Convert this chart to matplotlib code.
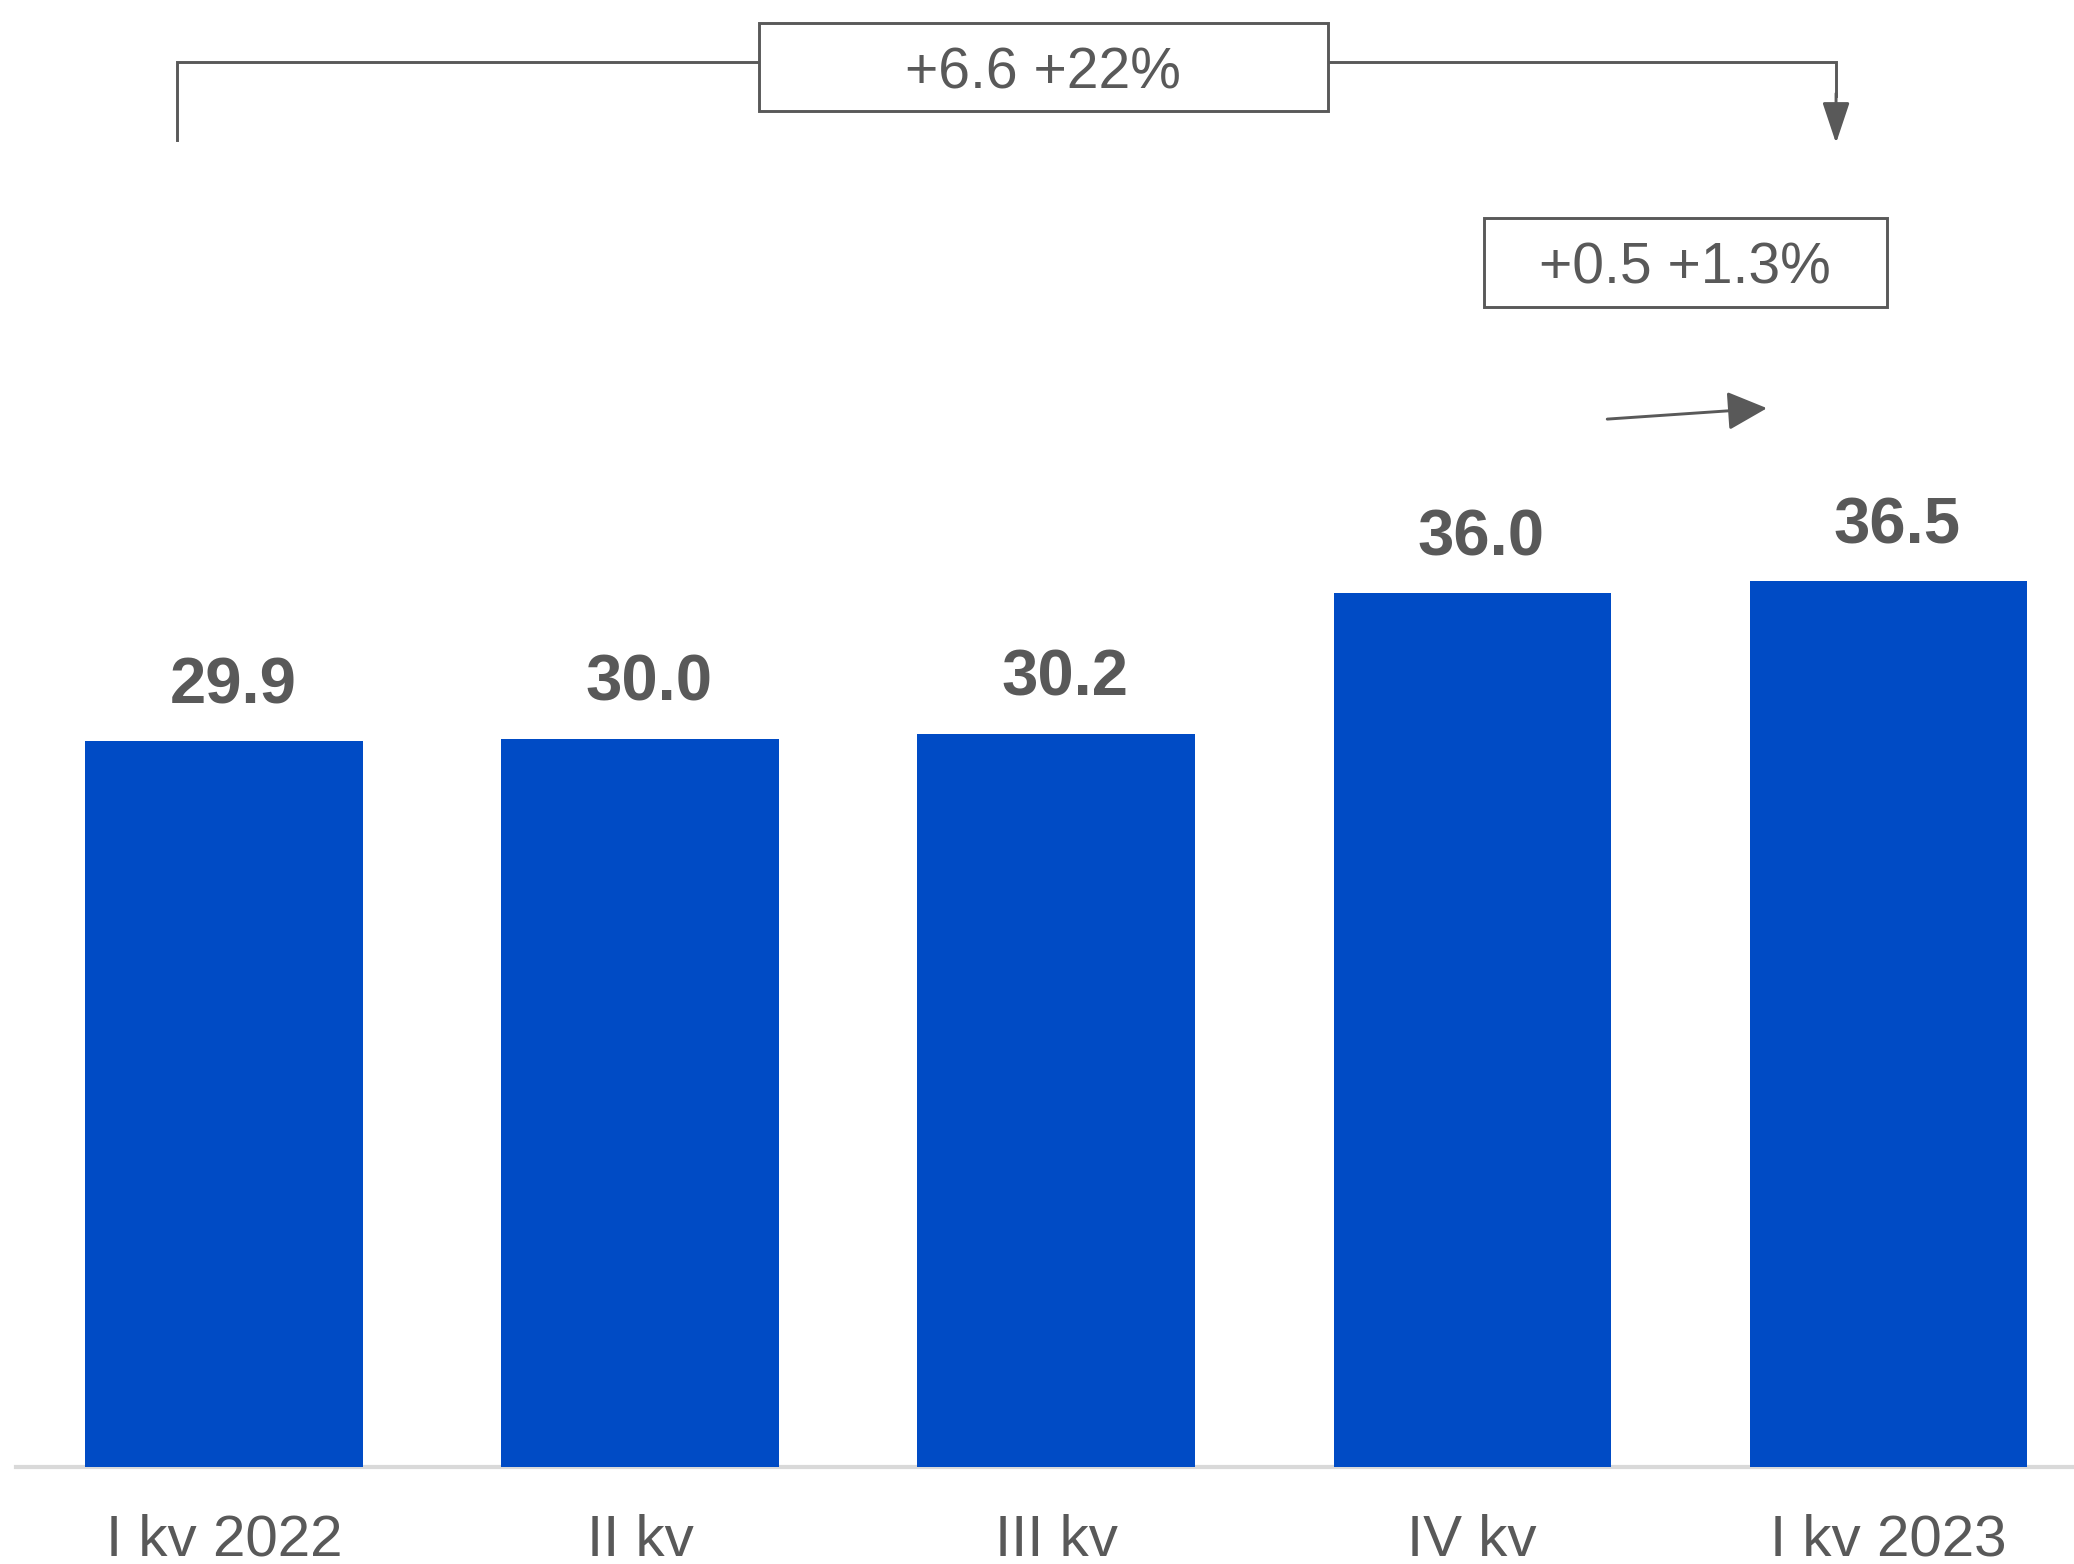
import matplotlib
matplotlib.use('Agg')
import matplotlib.pyplot as plt
from matplotlib.patches import Rectangle

plt.rcParams['font.family'] = ['Liberation Sans', 'DejaVu Sans']

# data
quarters = ['I kv 2022', 'II kv', 'III kv', 'IV kv', 'I kv 2023']
values = [29.9, 30.0, 30.2, 36.0, 36.5]
change_year = '+6.6 +22%'
change_quarter = '+0.5 +1.3%'

bar_color = '#004BC5'
gray = '#595959'

W, H = 2074, 1564
fig = plt.figure(figsize=(W / 100, H / 100), dpi=100)
ax = fig.add_axes([16 / W, 97 / H, 1 - 16 / W, 1467 / H])

x = list(range(len(quarters)))
ax.bar(x, values, width=0.666, color=bar_color, zorder=3)
ax.set_xlim(-0.5, 4.447)
ax.set_ylim(0, 60.45)

# value labels sit a little right of the bar centre, like the original
for xi, v in zip(x, values):
    ax.annotate(f'{v:.1f}', (xi, v), xytext=(6.5, 27.5), textcoords='offset points',
                ha='center', va='baseline', fontsize=47, fontweight='bold', color=gray)

ax.set_xticks(x)
ax.set_xticklabels(quarters, fontsize=42, color=gray)
ax.tick_params(axis='x', length=0, pad=33.5)
ax.set_yticks([])
for s in ['top', 'right', 'left']:
    ax.spines[s].set_visible(False)
ax.spines['bottom'].set_color('#D9D9D9')
ax.spines['bottom'].set_linewidth(3)
ax.spines['bottom'].set_zorder(1)

# bracket annotation, year over year
lw = 2.1
ax.plot([-0.113, -0.113, 3.875, 3.875], [54.7, 57.9, 57.9, 56.5],
        color=gray, lw=lw, solid_joinstyle='miter', clip_on=False, zorder=4)
ax.annotate('', xy=(3.875, 54.55), xytext=(3.875, 56.6),
            arrowprops=dict(arrowstyle='-|>,head_length=0.42,head_width=0.14',
                            mutation_scale=60, color=gray, lw=lw,
                            shrinkA=0, shrinkB=0))
ax.add_patch(Rectangle((1.286, 55.87), 2.654 - 1.286, 59.5 - 55.87,
                       facecolor='white', edgecolor=gray, lw=lw, zorder=5, clip_on=False))
ax.text(1.969, 56.82, change_year, ha='center', va='baseline', fontsize=41,
        color=gray, zorder=6)

# quarter over quarter
ax.add_patch(Rectangle((3.029, 47.8), 3.998 - 3.029, 51.46 - 47.8,
                       facecolor='white', edgecolor=gray, lw=lw, zorder=5, clip_on=False))
ax.text(3.512, 48.78, change_quarter, ha='center', va='baseline', fontsize=41,
        color=gray, zorder=6)
ax.annotate('', xy=(3.709, 43.63), xytext=(3.325, 43.18),
            arrowprops=dict(arrowstyle='-|>,head_length=0.41,head_width=0.2',
                            mutation_scale=60, color=gray, lw=lw,
                            shrinkA=0, shrinkB=0))

fig.savefig('out.png', dpi=100, facecolor='white')
